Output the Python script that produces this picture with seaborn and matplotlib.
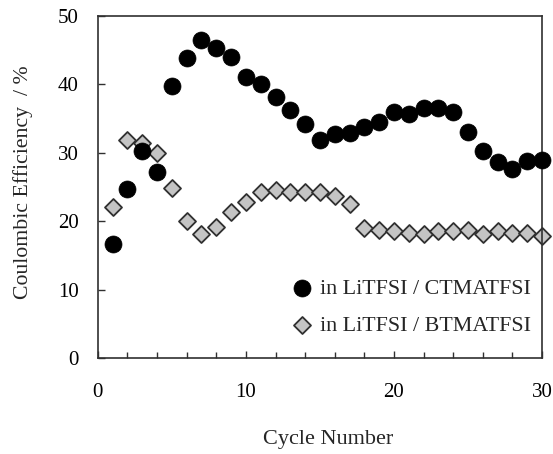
import matplotlib
matplotlib.use("Agg")
import matplotlib.pyplot as plt
import seaborn as sns
import pandas as pd
from matplotlib.ticker import MultipleLocator

cycles = list(range(1, 31))
ctmatfsi = [16.6, 24.7, 30.3, 27.2, 39.7, 43.8, 46.5, 45.3, 44.0, 41.1,
            40.0, 38.1, 36.3, 34.2, 31.9, 32.7, 32.9, 33.8, 34.5, 35.9,
            35.7, 36.6, 36.6, 36.0, 33.0, 30.3, 28.6, 27.6, 28.8, 28.9]
btmatfsi = [22.1, 31.8, 31.4, 30.0, 24.9, 20.0, 18.1, 19.2, 21.3, 22.8,
            24.2, 24.5, 24.2, 24.3, 24.3, 23.7, 22.5, 19.0, 18.7, 18.5,
            18.2, 18.1, 18.6, 18.6, 18.7, 18.1, 18.6, 18.3, 18.2, 17.9]
labels = ["in LiTFSI / CTMATFSI", "in LiTFSI / BTMATFSI"]

sns.set_theme(style="white")
plt.rcParams["font.family"] = ["Liberation Serif", "DejaVu Serif"]

df1 = pd.DataFrame({"cycle": cycles, "ce": ctmatfsi})
df2 = pd.DataFrame({"cycle": cycles, "ce": btmatfsi})

fig = plt.figure(figsize=(5.53, 4.54), dpi=100)
ax = fig.add_axes([0.177, 0.2115, 0.803, 0.7535])

sns.scatterplot(data=df2, x="cycle", y="ce", ax=ax, marker="D", s=75,
                color="#c4c4c4", edgecolor="#303030", linewidth=1.3,
                label=labels[1], zorder=2, clip_on=False)
sns.scatterplot(data=df1, x="cycle", y="ce", ax=ax, marker="o", s=150,
                color="black", edgecolor="black", linewidth=0.5,
                label=labels[0], zorder=3, clip_on=False)

ax.set_xlim(0, 30)
ax.set_ylim(0, 50)
ax.xaxis.set_major_locator(MultipleLocator(10))
ax.xaxis.set_minor_locator(MultipleLocator(2))
ax.yaxis.set_major_locator(MultipleLocator(10))
ax.tick_params(axis="both", which="both", direction="in", bottom=True, left=True,
               top=False, right=False, colors="#303030", labelcolor="black",
               labelsize=15)
ax.tick_params(axis="both", which="major", length=5, width=1)
ax.tick_params(axis="x", which="major", pad=18)
ax.tick_params(axis="x", which="minor", length=4, width=1)
ax.tick_params(axis="y", which="major", pad=14)
for sp in ax.spines.values():
    sp.set_color("#303030")
    sp.set_linewidth(1.2)

ax.set_xlabel("Cycle Number", fontsize=16)
ax.set_ylabel("Coulombic Efficiency  / %", fontsize=15.7)
ax.xaxis.set_label_coords(0.518, -0.21)
ax.yaxis.set_label_coords(-0.146, 0.515)

handles, lbls = ax.get_legend_handles_labels()
order = [1, 0]
ax.legend([handles[i] for i in order], [lbls[i] for i in order],
          loc="lower right", frameon=False, fontsize=15.8,
          handletextpad=-0.2, labelspacing=0.75, borderaxespad=0.3,
          bbox_to_anchor=(1.009, 0.02))

fig.savefig("out.png", dpi=100)
